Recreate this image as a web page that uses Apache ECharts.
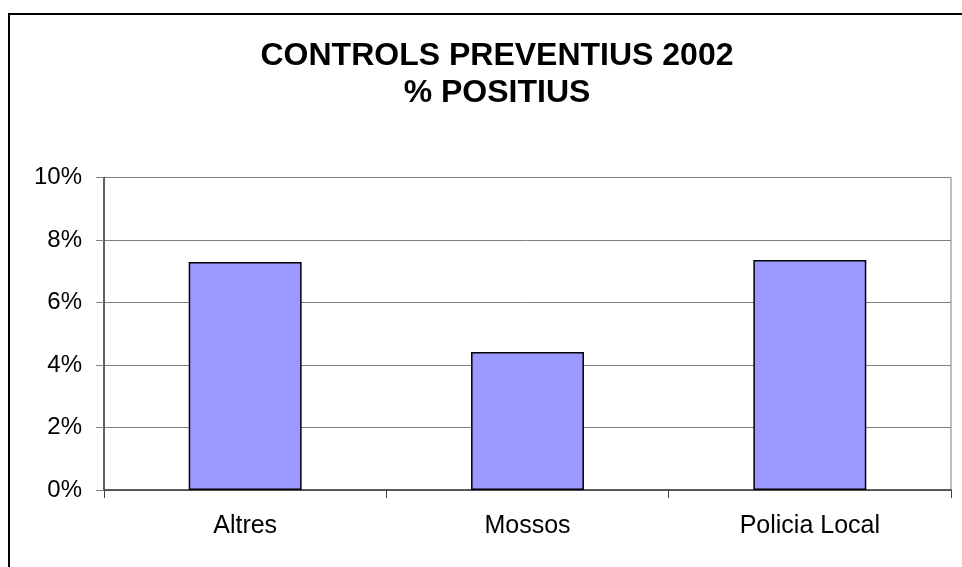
<!DOCTYPE html>
<html>
<head>
<meta charset="utf-8">
<script src="https://cdn.jsdelivr.net/npm/echarts@6/dist/echarts.min.js"></script>
<style>
  html, body { margin: 0; padding: 0; background: #fff; }
  #chart { width: 962px; height: 567px; }
</style>
</head>
<body>
<div id="chart"></div>
<script>
const categories = ["Altres", "Mossos", "Policia Local"];
const positius = [7.3, 4.42, 7.36];
const yTicks = [0, 2, 4, 6, 8, 10];

const chart = echarts.init(document.getElementById("chart"));
chart.setOption({
    animation: false,
    backgroundColor: "#ffffff",
    textStyle: { fontFamily: "Liberation Sans, Arial, sans-serif" },
    title: {
        text: "CONTROLS PREVENTIUS 2002\n% POSITIUS",
        left: 492,
        top: 33,
        textAlign: "center",
        textStyle: { fontSize: 32, fontWeight: "bold", color: "#000", lineHeight: 37, fontFamily: "Liberation Sans, Arial, sans-serif" },
    },
    graphic: [
        {
            type: "rect",
            shape: { x: 9, y: 14, width: 1100, height: 700 },
            style: { fill: "none", stroke: "#000", lineWidth: 2 },
            silent: true,
        },
    ],
    grid: { left: 104, right: 11, top: 177.5, bottom: 77, show: true, borderColor: "#808080", borderWidth: 1 },
    xAxis: {
        type: "category",
        data: categories,
        axisLine: { lineStyle: { color: "#404040", width: 1.5 } },
        axisTick: { show: true, inside: false, length: 8, alignWithLabel: false, lineStyle: { color: "#404040" } },
        axisLabel: { color: "#000", fontSize: 25, margin: 24 },
        splitLine: { show: false },
    },
    yAxis: {
        type: "value",
        min: yTicks[0],
        max: yTicks[yTicks.length - 1],
        interval: yTicks[1] - yTicks[0],
        axisLine: { show: true, lineStyle: { color: "#404040", width: 1.5 } },
        axisTick: { show: true, length: 8, lineStyle: { color: "#808080" } },
        axisLabel: { color: "#000", fontSize: 24, margin: 22, formatter: "{value}%" },
        splitLine: { show: true, lineStyle: { color: "#808080", width: 1 } },
    },
    series: [
        {
            name: "% positius",
            type: "bar",
            data: positius,
            barWidth: "40%",
            itemStyle: { color: "#9999ff", borderColor: "#000", borderWidth: 1.5 },
        },
    ],
});
</script>
</body>
</html>
